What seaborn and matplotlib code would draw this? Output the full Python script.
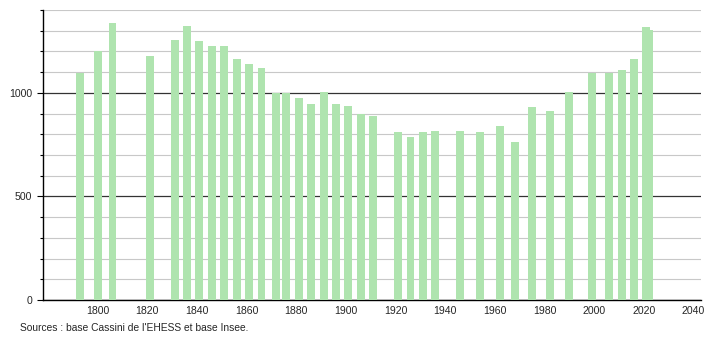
import matplotlib
matplotlib.use("Agg")
import matplotlib.pyplot as plt
import seaborn as sns
import numpy as np
from matplotlib.ticker import MultipleLocator

years = [1793, 1800, 1806, 1821, 1831, 1836, 1841, 1846, 1851, 1856, 1861, 1866,
         1872, 1876, 1881, 1886, 1891, 1896, 1901, 1906, 1911, 1921, 1926, 1931,
         1936, 1946, 1954, 1962, 1968, 1975, 1982, 1990, 1999, 2006, 2011, 2016,
         2021, 2022]
population = [1098, 1200, 1337, 1180, 1253, 1324, 1248, 1224, 1224, 1163, 1138, 1122,
              998, 998, 977, 947, 1006, 947, 937, 899, 889, 810, 789, 810,
              816, 816, 810, 841, 762, 931, 913, 1006, 1098, 1098, 1111, 1164,
              1317, 1304]
x_ticks = [1800, 1820, 1840, 1860, 1880, 1900, 1920, 1940, 1960, 1980, 2000, 2020, 2040]
y_ticks = [0, 500, 1000]
source = "Sources : base Cassini de l'EHESS et base Insee."

sns.set_style("white")
plt.rcParams['font.family'] = ['Liberation Sans', 'DejaVu Sans']

fig = plt.figure(figsize=(7.1, 3.4), dpi=100)
ax = fig.add_axes([43/710, 1-300/340, 658/710, 290/340])

sns.barplot(x=years, y=population, native_scale=True, width=3.2,
            color="#afe4af", saturation=1, linewidth=0, ax=ax, zorder=3)

ax.set_xlim(1778, 2043)
ax.set_ylim(0, 1400)
ax.set_xticks(x_ticks)
ax.set_xticklabels([str(t) for t in x_ticks])
ax.set_yticks(y_ticks)
ax.set_yticklabels([str(t) for t in y_ticks])
ax.yaxis.set_minor_locator(MultipleLocator(100))

ax.set_axisbelow(True)
ax.yaxis.grid(True, which="minor", color="#c8c8c8", linewidth=0.8)
ax.yaxis.grid(True, which="major", color="#333333", linewidth=0.9)

for s in ["top", "right"]:
    ax.spines[s].set_visible(False)
ax.spines["left"].set_color("black")
ax.spines["bottom"].set_color("black")
ax.spines["left"].set_linewidth(1)
ax.spines["bottom"].set_linewidth(1)

ax.tick_params(axis="y", which="major", length=4, width=0.8, color="black",
               labelsize=7.6, direction="out", left=True, pad=4)
ax.tick_params(axis="y", which="minor", length=2.5, width=0.8, color="black",
               direction="out", left=True)
ax.tick_params(axis="x", which="both", length=0, labelsize=7.6, pad=4)
ax.set_xlabel("")
ax.set_ylabel("")

fig.text(20/710, 1-328/340, source, fontsize=7.4, ha="left", va="center")

fig.savefig("out.png", dpi=100)
